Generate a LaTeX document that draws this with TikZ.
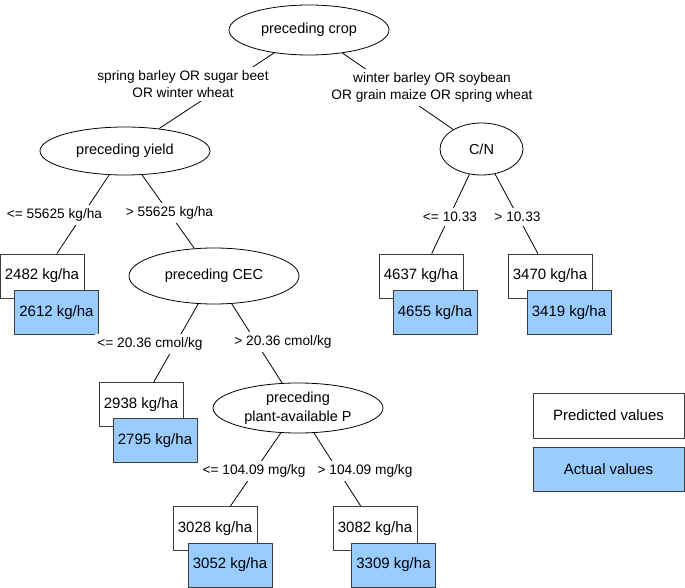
\documentclass[tikz,border=0pt]{standalone}
\usepackage{fontspec}
\setmainfont{Liberation Sans}
\usetikzlibrary{shapes.geometric}
\definecolor{actualblue}{RGB}{153,204,255}
\definecolor{edgegray}{RGB}{60,60,60}
\begin{document}
\begin{tikzpicture}[x=1pt,y=-1pt,
  split/.style={ellipse, draw, line width=0.8pt, fill=white, inner sep=0pt, align=center,
    font=\fontsize{14.5}{19}\selectfont},
  pred/.style={rectangle, draw=edgegray, line width=0.8pt, fill=white, minimum width=84pt,
    minimum height=44pt, inner sep=0pt, font=\fontsize{15}{18}\selectfont},
  act/.style={pred, fill=actualblue},
  elab/.style={fill=white, inner xsep=2pt, inner ysep=4pt, align=center,
    font=\fontsize{13.7}{16.5}\selectfont},
  conn/.style={draw, line width=0.8pt}]
\useasboundingbox (0,0) rectangle (685,588);
% split nodes
\node[split, minimum width=160pt, minimum height=50pt] (crop) at (309,30) {preceding crop};
\node[split, minimum width=170pt, minimum height=48pt] (yield) at (125,151) {preceding yield};
\node[split, minimum width=83pt, minimum height=52pt] (cn) at (481.5,149) {C/N};
\node[split, minimum width=170pt, minimum height=56pt] (cec) at (214,276) {preceding CEC};
\node[split, minimum width=170pt, minimum height=50pt] (pav) at (298,408) {preceding\\plant-available P};
% predicted / actual boxes
\node[pred] (b1) at (42,276) {2482 kg/ha};
\node[act]  (a1) at (56.5,312.5) {2612 kg/ha};
\node[pred] (b2) at (421,276) {4637 kg/ha};
\node[act]  (a2) at (435,312.5) {4655 kg/ha};
\node[pred] (b3) at (550,276) {3470 kg/ha};
\node[act]  (a3) at (569,312.5) {3419 kg/ha};
\node[pred] (b4) at (141,404.5) {2938 kg/ha};
\node[act]  (a4) at (155,440.5) {2795 kg/ha};
\node[pred] (b5) at (215,528.5) {3028 kg/ha};
\node[act]  (a5) at (230,565) {3052 kg/ha};
\node[pred] (b6) at (375,528.5) {3082 kg/ha};
\node[act]  (a6) at (393.5,565) {3309 kg/ha};
% legend
\node[pred, minimum width=151pt, minimum height=45pt] (legp) at (608.5,415.5) {Predicted values};
\node[act, minimum width=151pt, minimum height=44pt] (lega) at (608.5,469) {Actual values};
% connectors
\path[conn] (crop) -- (yield);
\path[conn] (crop) -- (cn);
\path[conn] (yield) -- (b1);
\path[conn] (yield) -- (cec);
\path[conn] (cn) -- (b2);
\path[conn] (cn) -- (b3);
\path[conn] (cec) -- (b4);
\path[conn] (cec) -- (pav);
\path[conn] (pav) -- (b5);
\path[conn] (pav) -- (b6);
% edge labels
\node[elab] (l1) at (183,84) {spring barley OR sugar beet\\OR winter wheat};
\node[elab] (l2) at (432,87.5) {winter barley OR soybean\\OR grain maize OR spring wheat};
\node[elab] (l3) at (54.5,215) {<= 55625 kg/ha};
\node[elab] (l4) at (169.5,213) {> 55625 kg/ha};
\node[elab] (l5) at (450,217) {<= 10.33};
\node[elab] (l6) at (517.5,217) {> 10.33};
\node[elab] (l7) at (150,344) {<= 20.36 cmol/kg};
\node[elab] (l8) at (283,342) {> 20.36 cmol/kg};
\node[elab] (l9) at (254,471) {<= 104.09 mg/kg};
\node[elab] (l10) at (365,471) {> 104.09 mg/kg};
\end{tikzpicture}
\end{document}
